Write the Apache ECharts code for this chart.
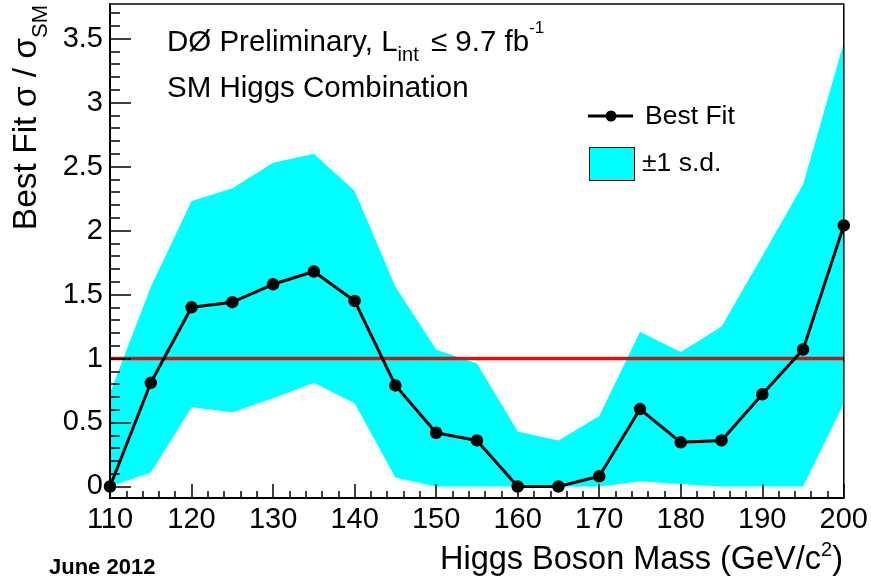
<!DOCTYPE html>
<html>
<head>
<meta charset="utf-8">
<script src="https://cdn.jsdelivr.net/npm/echarts@6/dist/echarts.min.js"></script>
<style>
  html, body { margin: 0; padding: 0; background: #fff; }
  #main { width: 871px; height: 584px; }
</style>
</head>
<body>
<div id="main"></div>
<script>
// Higgs mass hypotheses (GeV/c^2)
const masses = [110, 115, 120, 125, 130, 135, 140, 145, 150, 155, 160, 165, 170, 175, 180, 185, 190, 195, 200];
// Best-fit signal strength sigma / sigma_SM
const bestFit = [0.00, 0.81, 1.40, 1.44, 1.58, 1.68, 1.45, 0.79, 0.42, 0.36, 0.00, 0.00, 0.08, 0.605, 0.345, 0.36, 0.72, 1.07, 2.04];
// +-1 s.d. band edges
const bandLow  = [0.00, 0.11, 0.62, 0.58, 0.69, 0.81, 0.65, 0.07, 0.00, 0.00, 0.00, 0.00, 0.00, 0.04, 0.02, 0.00, 0.00, 0.00, 0.65];
const bandHigh = [0.73, 1.56, 2.23, 2.33, 2.53, 2.60, 2.31, 1.56, 1.07, 0.96, 0.43, 0.36, 0.55, 1.21, 1.05, 1.25, 1.80, 2.36, 3.47];
// SM expectation
const smLevel = 1;

// Axis ranges and ticks
const xMin = 110, xMax = 200, xStep = 10;
const yMin = -0.09, yMax = 3.77;
const yMajorTicks = [0, 0.5, 1, 1.5, 2, 2.5, 3, 3.5];
const yMinorTicks = [];
for (let i = 1; i <= 37; i++) { if (i % 5 !== 0) yMinorTicks.push(+(i / 10).toFixed(1)); }

const FONT = '"Liberation Sans", Arial, Helvetica, sans-serif';
const measureCtx = document.createElement('canvas').getContext('2d');
function measure(text, size, weight) {
  measureCtx.font = (weight || 'normal') + ' ' + size + 'px ' + FONT;
  return measureCtx.measureText(text).width;
}
// Lay out a run of text pieces (with sub/superscripts) on a common baseline.
function textRun(parts, x0, baseline, weight) {
  let x = x0;
  const els = [];
  parts.forEach(p => {
    const w = measure(p.t, p.s, weight);
    els.push({
      type: 'text', x: x + (p.dx || 0), y: baseline + (p.dy || 0) - 0.3465 * p.s, z: 20,
      style: { text: p.t, fontSize: p.s, fontFamily: FONT, fontWeight: weight || 'normal',
               fill: '#000', align: 'left', verticalAlign: 'middle' }
    });
    x += w + (p.dx || 0);
  });
  return { els: els, width: x - x0 };
}
function runWidth(parts, weight) {
  return parts.reduce((a, p) => a + measure(p.t, p.s, weight) + (p.dx || 0), 0);
}

const line1 = [
  { t: 'DØ Preliminary, L', s: 29.5 },
  { t: 'int', s: 20, dy: 9 },
  { t: ' ≤ 9.7 fb', s: 29.5, dx: 4 },
  { t: '-1', s: 17, dy: -19 }
];
const line2 = [{ t: 'SM Higgs Combination', s: 29.5 }];
const xTitle = [
  { t: 'Higgs Boson Mass (GeV/c', s: 32.5 },
  { t: '2', s: 20, dy: -14 },
  { t: ')', s: 32.5 }
];
const yTitle = [
  { t: 'Best Fit σ / σ', s: 33.5 },
  { t: 'SM', s: 22, dy: 10 }
];

const graphics = [];
graphics.push(...textRun(line1, 167, 53.5).els);
graphics.push(...textRun(line2, 167, 99).els);
const xtW = runWidth(xTitle);
graphics.push(...textRun(xTitle, 843 - xtW, 571.5).els);
const ytW = runWidth(yTitle);
graphics.push({
  type: 'group', x: 38.5, y: 5 + ytW, rotation: Math.PI / 2, z: 20,
  children: textRun(yTitle, 0, 0).els
});
graphics.push(...textRun([{ t: 'June 2012', s: 22 }], 49, 576, 'bold').els);

// Legend
graphics.push(
  { type: 'line', z: 20, shape: { x1: 588, y1: 116, x2: 633, y2: 116 }, style: { stroke: '#000', lineWidth: 3 } },
  { type: 'circle', z: 21, shape: { cx: 611, cy: 116, r: 5.5 }, style: { fill: '#000' } },
  { type: 'rect', z: 20, shape: { x: 589.5, y: 147.5, width: 45, height: 33 }, style: { fill: '#00ffff', stroke: '#000', lineWidth: 1 } }
);
graphics.push(...textRun([{ t: 'Best Fit', s: 26.5 }], 645, 126).els);
graphics.push(...textRun([{ t: '±1 s.d.', s: 26.5 }], 642, 173).els);

const chart = echarts.init(document.getElementById('main'), null, { renderer: 'canvas' });
const tickStyle = { color: '#000', width: 1.5 };

chart.setOption({
  animation: false,
  backgroundColor: '#ffffff',
  grid: { left: 110, right: 26.5, top: 4, bottom: 86, show: true, borderColor: '#000', borderWidth: 1.5,
          backgroundColor: 'transparent', z: 3 },
  xAxis: {
    type: 'value', min: xMin, max: xMax, interval: xStep, z: 4,
    axisLine: { show: true, onZero: false, lineStyle: { color: '#000', width: 2 } },
    axisTick: { show: true, inside: true, length: 14, lineStyle: tickStyle },
    minorTick: { show: true, splitNumber: 5, length: 7, lineStyle: tickStyle },
    axisLabel: { color: '#000', fontSize: 29, fontFamily: FONT, margin: 7, showMinLabel: true, showMaxLabel: true },
    splitLine: { show: false }
  },
  yAxis: [
    {
      type: 'value', min: yMin, max: yMax, z: 4,
      axisLine: { show: true, onZero: false, lineStyle: { color: '#000', width: 2 } },
      axisTick: { show: true, inside: true, length: 21, customValues: yMajorTicks, lineStyle: tickStyle },
      axisLabel: { color: '#000', fontSize: 29, fontFamily: FONT, margin: 7, customValues: yMajorTicks },
      splitLine: { show: false }
    },
    {
      type: 'value', min: yMin, max: yMax, position: 'left', z: 4,
      axisLine: { show: false, onZero: false },
      axisTick: { show: true, inside: true, length: 10, customValues: yMinorTicks, lineStyle: tickStyle },
      axisLabel: { show: false },
      splitLine: { show: false }
    }
  ],
  series: [
    {
      // +-1 s.d. band: one filled polygon along the upper edge and back along the lower edge
      type: 'custom', name: '±1 s.d.', z: 1, silent: true,
      data: masses.map((m, i) => [m, bandLow[i], bandHigh[i]]),
      encode: { x: 0, y: [1, 2] },
      renderItem: function (params, api) {
        if (params.dataIndex !== 0) return null;
        const upper = masses.map((m, i) => api.coord([m, bandHigh[i]]));
        const lower = masses.map((m, i) => api.coord([m, bandLow[i]])).reverse();
        return { type: 'polygon', shape: { points: upper.concat(lower) }, style: { fill: '#00ffff' } };
      }
    },
    {
      type: 'line', name: 'SM', z: 2, silent: true,
      data: [[masses[0], smLevel], [masses[masses.length - 1], smLevel]],
      symbol: 'none', lineStyle: { color: '#ff0000', width: 3.5 }
    },
    {
      type: 'line', name: 'Best Fit', z: 6, clip: false,
      data: masses.map((m, i) => [m, bestFit[i]]),
      symbol: 'circle', symbolSize: 12.5,
      itemStyle: { color: '#000' },
      lineStyle: { color: '#000', width: 3 }
    }
  ],
  graphic: graphics
});
</script>
</body>
</html>
